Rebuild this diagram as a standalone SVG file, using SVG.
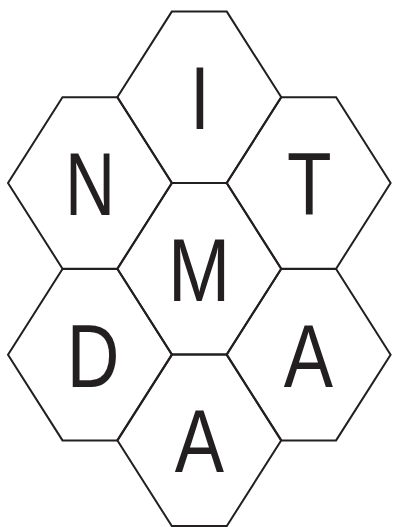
<svg xmlns="http://www.w3.org/2000/svg" xmlns:xlink="http://www.w3.org/1999/xlink" width="394" height="527" viewBox="0 0 394 527">
<style>
.hex{fill:none;stroke:#231f20;stroke-width:2;stroke-linejoin:miter}
.lbl{font-family:"Liberation Sans",Arial,sans-serif;font-size:89px;fill:#231f20;text-anchor:middle}
</style>
<defs>
<polygon id="h" points="-27.5,-85.7 27.5,-85.7 82,0 27.5,85.7 -27.5,85.7 -82,0"/>
</defs>
<rect width="394" height="527" fill="#fff"/>
<g id="node-I"><use xlink:href="#h" class="hex" x="199.3" y="97.3"/><text class="lbl" transform="translate(200,128.8) scale(0.8,1)">I</text></g>
<g id="node-N"><use xlink:href="#h" class="hex" x="90" y="183"/><text class="lbl" transform="translate(90,215) scale(0.78,1)">N</text></g>
<g id="node-T"><use xlink:href="#h" class="hex" x="308.6" y="183"/><text class="lbl" transform="translate(309.2,215) scale(0.82,1)">T</text></g>
<g id="node-M"><use xlink:href="#h" class="hex" x="199.3" y="268.7"/><text class="lbl" transform="translate(199.2,300.7) scale(0.84,1)">M</text></g>
<g id="node-D"><use xlink:href="#h" class="hex" x="90" y="354.7"/><text class="lbl" transform="translate(93,386.7) scale(0.82,1)">D</text></g>
<g id="node-A1"><use xlink:href="#h" class="hex" x="308.6" y="354.7"/><text class="lbl" transform="translate(308.3,386.7) scale(0.83,1)">A</text></g>
<g id="node-A2"><use xlink:href="#h" class="hex" x="199.3" y="440.3"/><text class="lbl" transform="translate(199.5,471.7) scale(0.83,1)">A</text></g>
<g id="connectors"></g>
</svg>
